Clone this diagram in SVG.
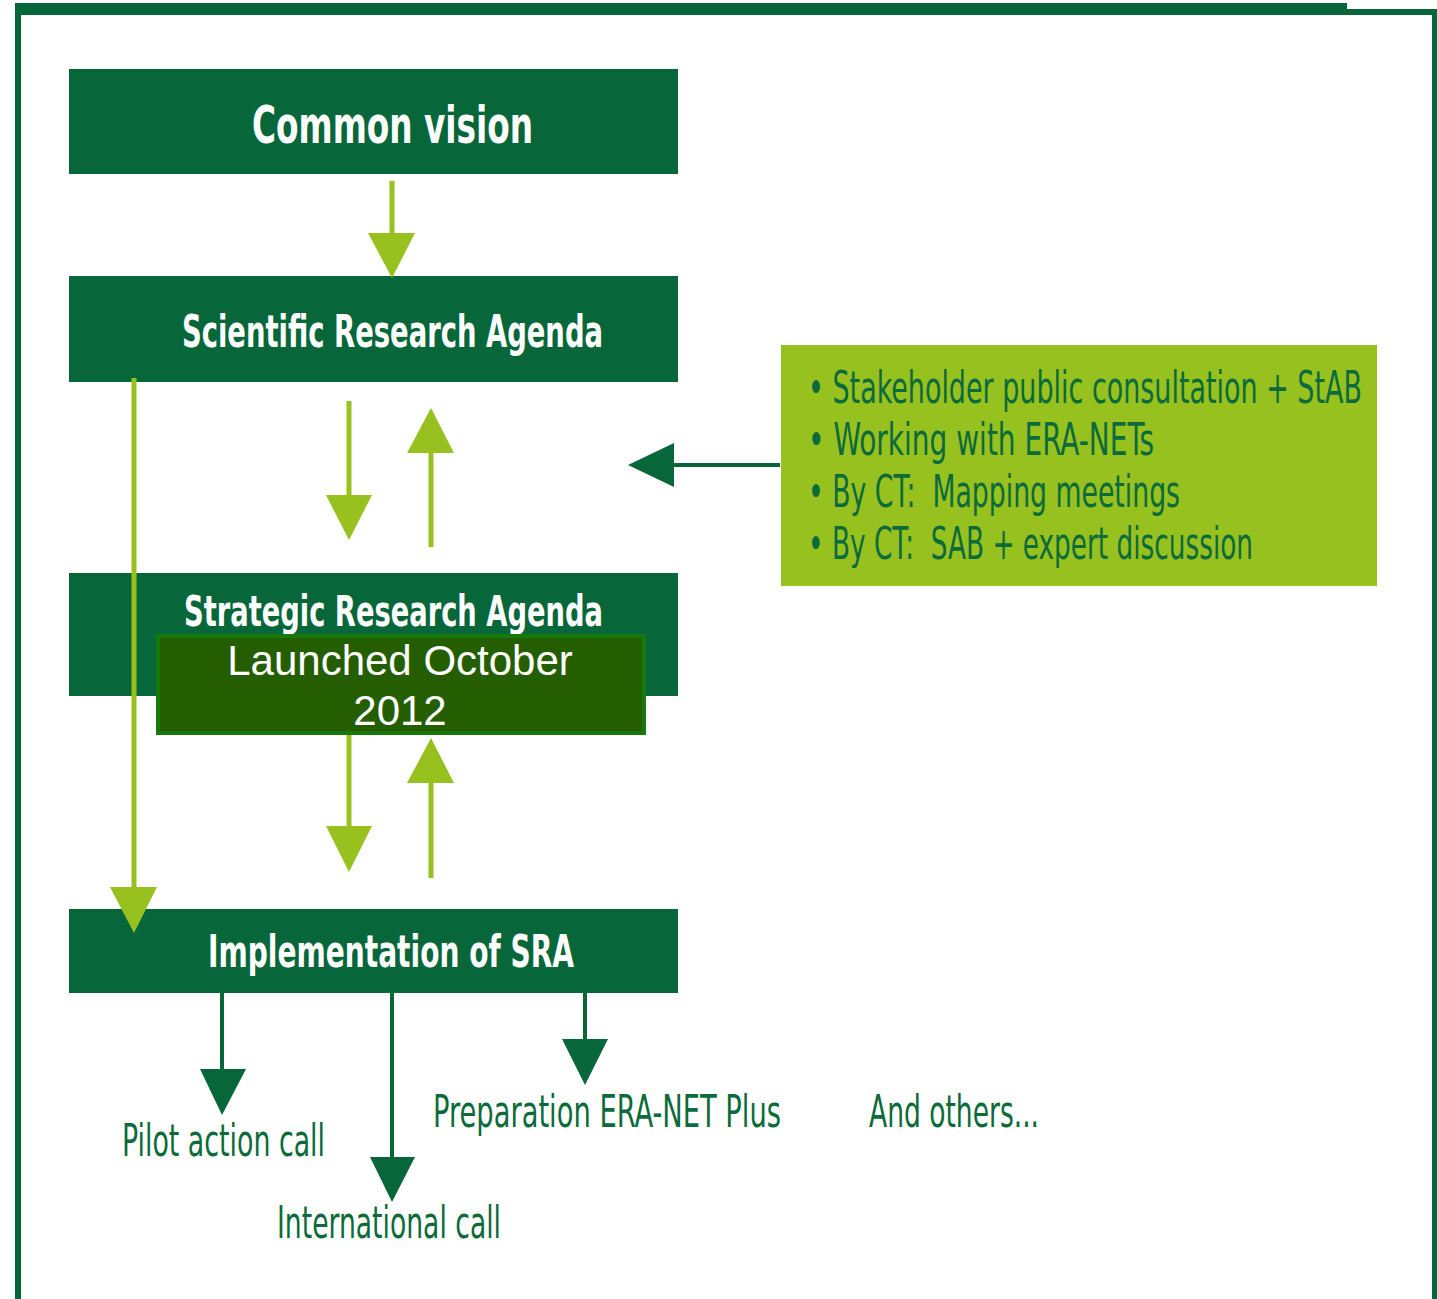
<svg xmlns="http://www.w3.org/2000/svg" width="1437" height="1299" viewBox="0 0 1437 1299">
<defs>
<style>
.box{fill:#08673A}
.title{fill:#ffffff;font-family:"Liberation Sans Narrow","DejaVu Sans Condensed","Liberation Sans",sans-serif;font-weight:bold}
.item{fill:#0B6B3A;font-family:"Liberation Sans Narrow","DejaVu Sans Condensed","Liberation Sans",sans-serif;font-size:28px}
.lime{stroke:#97C11F;stroke-width:5;fill:none}
.limehead{fill:#97C11F}
.dark{stroke:#08673A;stroke-width:4;fill:none}
.darkhead{fill:#08673A}
</style>
</defs>
<rect width="1437" height="1299" fill="#ffffff"/>
<g id="frame" fill="#08673A">
<rect x="15" y="3" width="1332" height="12"/>
<rect x="1347" y="9" width="90" height="6"/>
<rect x="15" y="3" width="6" height="1296"/>
<rect x="1432" y="9" width="5" height="1290"/>
</g>
<g id="common-vision">
<rect class="box" x="69" y="69" width="609" height="105"/>
<text class="title" x="252" y="143" font-size="52" textLength="281" lengthAdjust="spacingAndGlyphs">Common vision</text>
</g>
<g id="scientific-research-agenda">
<rect class="box" x="69" y="276" width="609" height="106"/>
<text class="title" x="182" y="347" font-size="44" textLength="421" lengthAdjust="spacingAndGlyphs">Scientific Research Agenda</text>
</g>
<g id="strategic-research-agenda">
<rect class="box" x="69" y="573" width="609" height="123"/>
<text class="title" x="184" y="626" font-size="42" textLength="419" lengthAdjust="spacingAndGlyphs">Strategic Research Agenda</text>
</g>
<g id="launched">
<rect x="158" y="636" width="486" height="97" fill="#245E00" stroke="#157A0A" stroke-width="4"/>
<text x="400" y="675" font-family="'Liberation Sans',Arial,sans-serif" font-size="42" fill="#ffffff" text-anchor="middle">Launched October</text>
<text x="400" y="725" font-family="'Liberation Sans',Arial,sans-serif" font-size="42" fill="#ffffff" text-anchor="middle">2012</text>
</g>
<g id="implementation">
<rect class="box" x="69" y="909" width="609" height="84"/>
<text class="title" x="208" y="967" font-size="44" textLength="366" lengthAdjust="spacingAndGlyphs">Implementation of SRA</text>
</g>
<g id="inputs">
<rect x="781" y="345" width="596" height="241" fill="#97C11F"/>
<text class="item" transform="translate(808,403) scale(1,1.57)" x="0" y="0" textLength="554" lengthAdjust="spacingAndGlyphs">• Stakeholder public consultation + StAB</text>
<text class="item" transform="translate(808,455) scale(1,1.57)" x="0" y="0" textLength="346" lengthAdjust="spacingAndGlyphs">• Working with ERA-NETs</text>
<text class="item" transform="translate(808,507) scale(1,1.57)" x="0" y="0" textLength="372" lengthAdjust="spacingAndGlyphs">• By CT:&#160; Mapping meetings</text>
<text class="item" transform="translate(808,559) scale(1,1.57)" x="0" y="0" textLength="445" lengthAdjust="spacingAndGlyphs">• By CT:&#160; SAB + expert discussion</text>
</g>
<g id="outputs">
<text class="item" transform="translate(122,1156) scale(1,1.57)" x="0" y="0" textLength="203" lengthAdjust="spacingAndGlyphs">Pilot action call</text>
<text class="item" transform="translate(277,1238) scale(1,1.57)" x="0" y="0" textLength="224" lengthAdjust="spacingAndGlyphs">International call</text>
<text class="item" transform="translate(433,1127) scale(1,1.57)" x="0" y="0" textLength="348" lengthAdjust="spacingAndGlyphs">Preparation ERA-NET Plus</text>
<text class="item" transform="translate(869,1127) scale(1,1.57)" x="0" y="0" textLength="170" lengthAdjust="spacingAndGlyphs">And others...</text>
</g>
<g id="connectors">
<line class="lime" x1="392" y1="181" x2="392" y2="236"/>
<polygon class="limehead" points="368,233 415,233 392,278"/>
<line class="lime" x1="349" y1="401" x2="349" y2="498"/>
<polygon class="limehead" points="326,495 372,495 349,540"/>
<line class="lime" x1="431" y1="547" x2="431" y2="450"/>
<polygon class="limehead" points="407,453 454,453 431,408"/>
<line class="lime" x1="349" y1="735" x2="349" y2="829"/>
<polygon class="limehead" points="326,826 372,826 349,872"/>
<line class="lime" x1="431" y1="878" x2="431" y2="780"/>
<polygon class="limehead" points="407,783 454,783 431,738"/>
<line class="lime" x1="134" y1="378" x2="134" y2="890"/>
<polygon class="limehead" points="110,887 157,887 134,933"/>
<line class="dark" x1="780" y1="465" x2="670" y2="465"/>
<polygon class="darkhead" points="674,443 674,487 628,465"/>
<line class="dark" x1="222" y1="993" x2="222" y2="1072"/>
<polygon class="darkhead" points="200,1069 246,1069 222,1115"/>
<line class="dark" x1="392" y1="993" x2="392" y2="1160"/>
<polygon class="darkhead" points="370,1157 415,1157 392,1202"/>
<line class="dark" x1="585" y1="993" x2="585" y2="1042"/>
<polygon class="darkhead" points="562,1039 608,1039 585,1085"/>
</g>
</svg>
